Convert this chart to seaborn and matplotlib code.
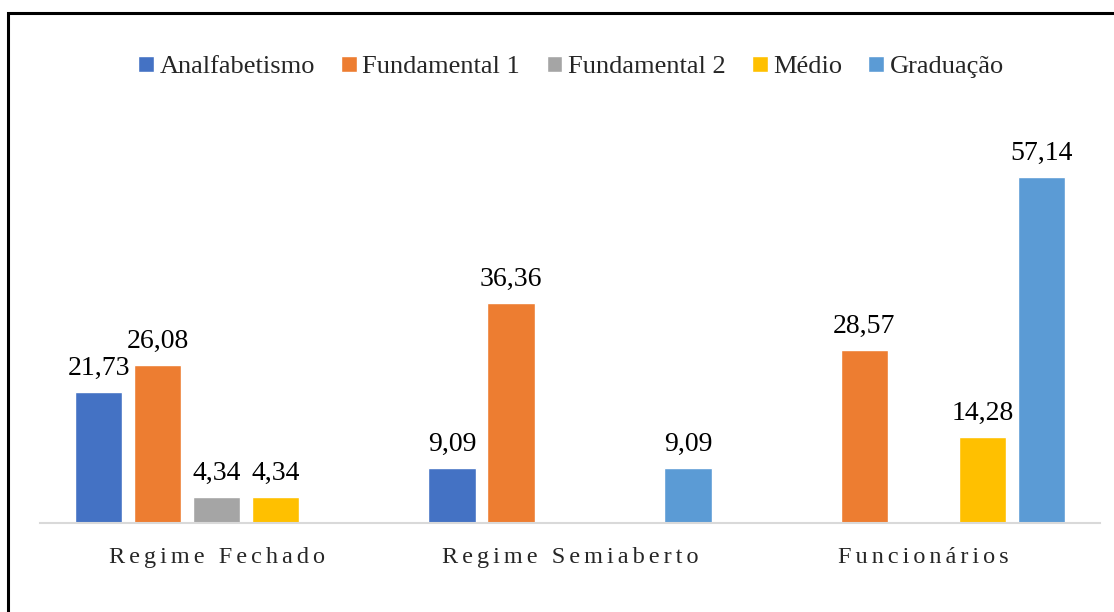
import pandas as pd
import numpy as np
import matplotlib.pyplot as plt
import seaborn as sns
from matplotlib.patches import Rectangle

# data (blank = no bar)
grupos = ["Regime Fechado", "Regime Semiaberto", "Funcionários"]
escolaridade = ["Analfabetismo", "Fundamental 1", "Fundamental 2", "Médio", "Graduação"]
analfabetismo = [21.73, 9.09, np.nan]
fundamental1 = [26.08, 36.36, 28.57]
fundamental2 = [4.34, np.nan, np.nan]
medio = [4.34, np.nan, 14.28]
graduacao = [np.nan, 9.09, 57.14]
cores = ["#4472C4", "#ED7D31", "#A5A5A5", "#FFC000", "#5B9BD5"]

series = [analfabetismo, fundamental1, fundamental2, medio, graduacao]
data = pd.DataFrame({"grupo": grupos * 5,
                     "nivel": np.repeat(escolaridade, 3),
                     "valor": np.concatenate(series)})

sns.set_style("white")
plt.rcParams["font.family"] = ["Liberation Serif", "DejaVu Serif"]

fig = plt.figure(figsize=(11.14, 6.12), dpi=100)
ax = fig.add_axes([40 / 1114, 89 / 612, 1060 / 1114, 363 / 612])

sns.barplot(data=data, x="grupo", y="valor", hue="nivel", order=grupos,
            hue_order=escolaridade, palette=cores, saturation=1, width=0.835, gap=0.2,
            errorbar=None, ax=ax, legend=True)

for container in ax.containers:
    rotulos = ["" if np.isnan(v) else f"{v:.2f}".replace(".", ",") for v in container.datavalues]
    ax.bar_label(container, labels=rotulos, padding=8, fontsize=20, color="#000000")

ax.set_ylim(0, 60)
ax.set_xlim(-0.5, 2.5)
ax.set_yticks([])
ax.set_xlabel("")
ax.set_ylabel("")
for lado in ["top", "right", "left"]:
    ax.spines[lado].set_visible(False)
ax.spines["bottom"].set_color("#D9D9D9")
ax.spines["bottom"].set_linewidth(1.5)

# letras espacadas como no original
espaco = "\u200a\u200a"
ax.set_xticks(range(3))
ax.set_xticklabels([espaco.join(list(g)) for g in grupos], fontsize=17.5)
ax.tick_params(axis="x", length=0, pad=17)

ax.legend(loc="center", bbox_to_anchor=(571 / 1114, 1 - 67 / 612), bbox_transform=fig.transFigure,
          ncol=5, frameon=False, fontsize=19, handlelength=0.6, handleheight=0.6,
          handletextpad=0.2, columnspacing=1.0, borderaxespad=0)

# moldura do grafico
fig.patches.append(Rectangle((8 / 1114, -0.1), 1.2, (612 - 13) / 612 + 0.1, transform=fig.transFigure,
                             fill=False, edgecolor="#000000", linewidth=2.2))

plt.savefig("out.png", dpi=100)
